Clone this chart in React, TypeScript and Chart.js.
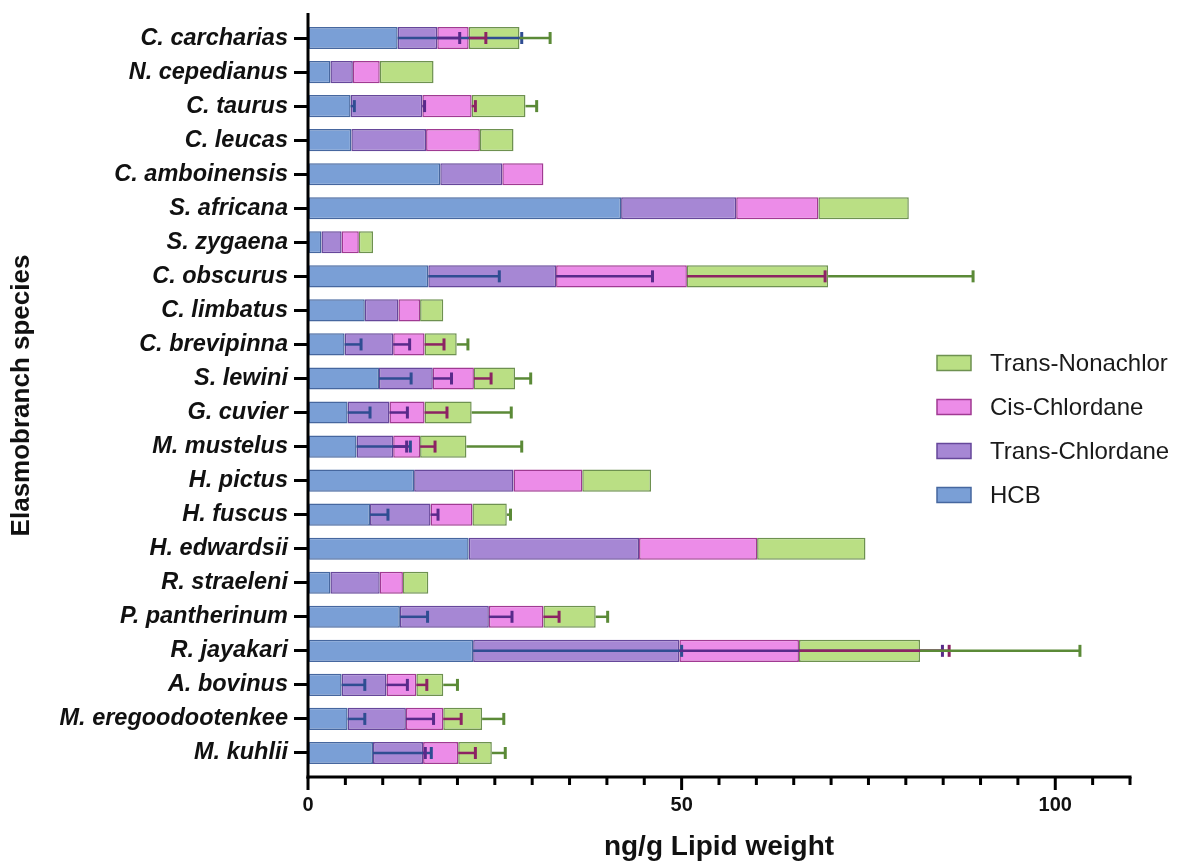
import React, { useEffect, useRef } from "react";
import { Chart, registerables } from "chart.js";

Chart.register(...registerables);

const species = [
  "C. carcharias",
  "N. cepedianus",
  "C. taurus",
  "C. leucas",
  "C. amboinensis",
  "S. africana",
  "S. zygaena",
  "C. obscurus",
  "C. limbatus",
  "C. brevipinna",
  "S. lewini",
  "G. cuvier",
  "M. mustelus",
  "H. pictus",
  "H. fuscus",
  "H. edwardsii",
  "R. straeleni",
  "P. pantherinum",
  "R. jayakari",
  "A. bovinus",
  "M. eregoodootenkee",
  "M. kuhlii",
];

const seriesNames = ["HCB", "Trans-Chlordane", "Cis-Chlordane", "Trans-Nonachlor"];

const hcb = [12.0, 3.0, 5.7, 5.8, 17.7, 41.9, 1.8, 16.1, 7.6, 4.9, 9.5, 5.3, 6.5, 14.2, 8.3, 21.5, 3.0, 12.3, 22.1, 4.5, 5.3, 8.7];
const transChlordane = [5.3, 3.0, 9.6, 10.0, 8.3, 15.4, 2.7, 17.1, 4.5, 6.5, 7.2, 5.6, 4.9, 13.3, 8.1, 22.8, 6.6, 11.9, 27.6, 6.0, 7.8, 6.7];
const cisChlordane = [4.2, 3.6, 6.6, 7.2, 5.5, 11.0, 2.3, 17.5, 2.9, 4.2, 5.5, 4.7, 3.6, 9.2, 5.6, 15.8, 3.1, 7.3, 16.0, 4.0, 5.0, 4.7];
const transNonachlor = [6.8, 7.2, 7.2, 4.5, 0, 12.1, 1.9, 18.9, 3.1, 4.3, 5.5, 6.3, 6.2, 9.2, 4.6, 14.5, 3.4, 7.0, 16.2, 3.6, 5.2, 4.5];

const hcbErr = [16.6, 0, 0.5, 0, 0, 0, 0, 9.5, 0, 2.2, 4.3, 3.0, 7.2, 0, 2.4, 0, 0, 3.7, 27.9, 3.1, 2.3, 7.8];
const transChlordaneErr = [3.0, 0, 0.3, 0, 0, 0, 0, 12.9, 0, 2.2, 2.5, 2.4, 1.8, 0, 1.0, 0, 0, 3.1, 35.2, 2.8, 3.7, 0.3];
const cisChlordaneErr = [2.3, 0, 0.5, 0, 0, 0, 0, 18.5, 0, 2.6, 2.3, 3.0, 2.0, 0, 0, 0, 0, 2.1, 20.1, 1.4, 2.4, 2.3];
const transNonachlorErr = [4.1, 0, 1.5, 0, 0, 0, 0, 19.4, 0, 1.5, 2.1, 5.3, 7.4, 0, 0.5, 0, 0, 1.6, 21.4, 1.9, 2.9, 1.8];

const xMin = 0;
const xMax = 110;
const xStep = 5;
const majorTicks = [0, 50, 100];

const fills = ["#7A9FD6", "#A687D4", "#EC8CE8", "#BADF84"];
const borders = ["#46679F", "#66479A", "#A03A92", "#6E9150"];
const errColors = ["#2F4D92", "#582A8A", "#8C2363", "#5B8A37"];

const values = [hcb, transChlordane, cisChlordane, transNonachlor];
const errors = [hcbErr, transChlordaneErr, cisChlordaneErr, transNonachlorErr];

const FONT = "'Liberation Sans', Arial, sans-serif";

const errorBarPlugin = {
  id: "errorBars",
  afterDatasetsDraw(chart: any) {
    const { ctx, scales } = chart;
    const xs = scales.x;
    const ys = scales.y;
    ctx.save();
    for (let d = 0; d < values.length; d++) {
      for (let i = 0; i < species.length; i++) {
        const e = errors[d][i];
        if (!e) continue;
        let start = 0;
        for (let k = 0; k <= d; k++) start += values[k][i];
        const x0 = xs.getPixelForValue(start);
        const x1 = xs.getPixelForValue(start + e);
        const y = ys.getPixelForValue(i);
        ctx.strokeStyle = errColors[d];
        ctx.lineWidth = 2.5;
        ctx.beginPath();
        ctx.moveTo(x0, y);
        ctx.lineTo(x1, y);
        ctx.stroke();
        ctx.lineWidth = 3;
        ctx.beginPath();
        ctx.moveTo(x1, y - 6);
        ctx.lineTo(x1, y + 6);
        ctx.stroke();
      }
    }
    ctx.restore();
  },
};

const axesPlugin = {
  id: "axesLines",
  afterDraw(chart: any) {
    const { ctx, chartArea, scales } = chart;
    const xs = scales.x;
    const axisY = chartArea.bottom + 7;
    const axisX = chartArea.left;
    ctx.save();
    ctx.strokeStyle = "#000";
    ctx.lineWidth = 3;
    ctx.beginPath();
    ctx.moveTo(axisX, chartArea.top - 8);
    ctx.lineTo(axisX, axisY + 1.5);
    ctx.stroke();
    ctx.beginPath();
    ctx.moveTo(axisX - 1.5, axisY);
    ctx.lineTo(chartArea.right + 1.5, axisY);
    ctx.stroke();
    xs.ticks.forEach((t: any) => {
      const px = xs.getPixelForValue(t.value);
      const len = majorTicks.includes(t.value) ? 13 : 8;
      ctx.beginPath();
      ctx.moveTo(px, axisY);
      ctx.lineTo(px, axisY + len);
      ctx.stroke();
    });
    ctx.restore();
  },
};

const legendPlugin = {
  id: "customLegend",
  afterDraw(chart: any) {
    const { ctx } = chart;
    ctx.save();
    const order = [3, 2, 1, 0];
    const bx = 937;
    const bw = 34;
    const bh = 15;
    const tx = 990;
    const y0 = 363;
    const gap = 44;
    ctx.font = `24px ${FONT}`;
    ctx.textBaseline = "middle";
    ctx.textAlign = "left";
    order.forEach((d, k) => {
      const cy = y0 + k * gap;
      ctx.fillStyle = fills[d];
      ctx.fillRect(bx, cy - bh / 2, bw, bh);
      ctx.strokeStyle = borders[d];
      ctx.lineWidth = 1.5;
      ctx.strokeRect(bx, cy - bh / 2, bw, bh);
      ctx.fillStyle = "#1a1a1a";
      ctx.fillText(seriesNames[d], tx, cy + 1);
    });
    ctx.restore();
  },
};

export default function App() {
  const canvasRef = useRef<HTMLCanvasElement | null>(null);

  useEffect(() => {
    if (!canvasRef.current) return;
    const chart = new Chart(canvasRef.current, {
      type: "bar",
      data: {
        labels: species,
        datasets: values.map((v, d) => ({
          label: seriesNames[d],
          data: v,
          backgroundColor: fills[d],
          borderColor: borders[d],
          borderWidth: 1.5,
          borderSkipped: false,
          barPercentage: 1,
          categoryPercentage: 0.65,
        })),
      },
      options: {
        indexAxis: "y",
        animation: false,
        responsive: true,
        maintainAspectRatio: false,
        layout: { padding: { top: 21, right: 60, bottom: 0, left: 0 } },
        plugins: {
          legend: { display: false },
          tooltip: { enabled: false },
        },
        scales: {
          x: {
            type: "linear",
            stacked: true,
            min: xMin,
            max: xMax,
            border: { display: false },
            grid: {
              display: true,
              drawOnChartArea: false,
              tickColor: "rgba(0,0,0,0)",
              tickLength: 15,
            },
            ticks: {
              stepSize: xStep,
              autoSkip: false,
              maxRotation: 0,
              padding: 8,
              color: "#111",
              font: { family: FONT, size: 20, weight: "bold" },
              callback: (v: any) => (majorTicks.includes(Number(v)) ? String(v) : ""),
            },
            title: {
              display: true,
              text: "ng/g Lipid weight",
              color: "#111",
              font: { family: FONT, size: 28, weight: "bold" },
              padding: { top: 0, bottom: 0 },
            },
            afterFit: (scale: any) => {
              scale.height = 94;
            },
          },
          y: {
            type: "category",
            stacked: true,
            border: { display: false },
            grid: {
              display: true,
              offset: false,
              drawOnChartArea: false,
              tickColor: "#000",
              lineWidth: 3,
              tickLength: 14,
            },
            ticks: {
              padding: 6,
              color: "#111",
              autoSkip: false,
              font: { family: FONT, size: 23.5, weight: "bold", style: "italic" },
            },
            title: {
              display: true,
              text: "Elasmobranch species",
              color: "#111",
              font: { family: FONT, size: 26, weight: "bold" },
              padding: { top: 6, bottom: 0 },
            },
            afterFit: (scale: any) => {
              scale.width = 308;
            },
          },
        },
      },
      plugins: [errorBarPlugin, axesPlugin, legendPlugin],
    });
    return () => chart.destroy();
  }, []);

  return (
    <div style={{ position: "fixed", left: 0, top: 0, width: 1190, height: 864, background: "#fff" }}>
      <canvas ref={canvasRef} />
    </div>
  );
}
